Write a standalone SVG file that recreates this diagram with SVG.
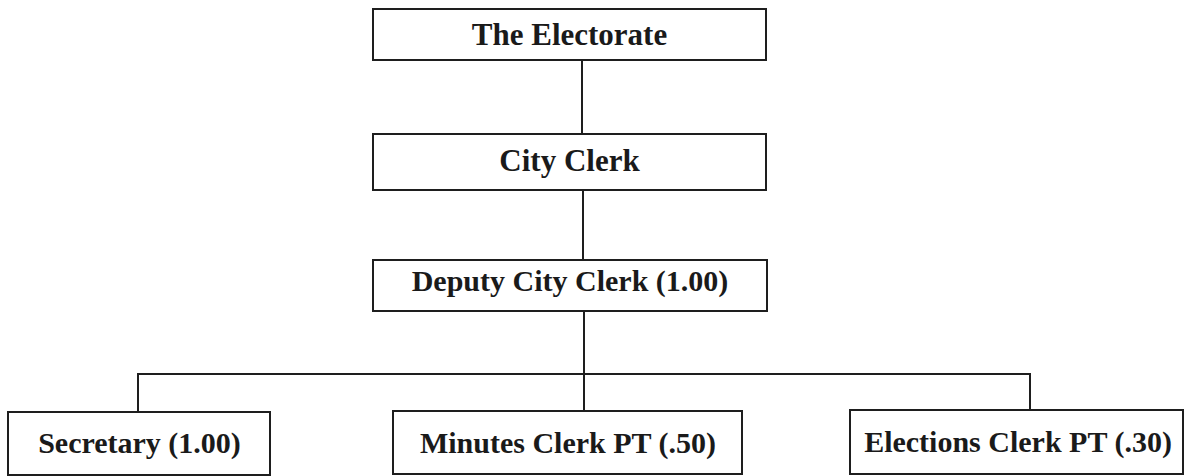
<svg xmlns="http://www.w3.org/2000/svg" width="1185" height="476" viewBox="0 0 1185 476">
<style>
.box{fill:#fff;stroke:#1e1e1e;stroke-width:2}
.lbl{font-family:"Liberation Serif","Times New Roman",serif;font-weight:bold;fill:#1a1a1a;text-anchor:middle}
.big{font-size:31px}
.mid{font-size:30px}
.conn{fill:none;stroke:#1e1e1e;stroke-width:2}
</style>
<rect width="1185" height="476" fill="#fff"/>
<g id="connectors">
<path class="conn" d="M582 60V134"/>
<path class="conn" d="M583 190V260"/>
<path class="conn" d="M584 311V411"/>
<path class="conn" d="M138 412V374H1030V411"/>
</g>
<g id="electorate">
<rect class="box" x="373" y="9" width="393" height="51"/>
<text class="lbl big" x="569.5" y="45">The Electorate</text>
</g>
<g id="city-clerk">
<rect class="box" x="373" y="134" width="393" height="56"/>
<text class="lbl big" x="569.5" y="171">City Clerk</text>
</g>
<g id="deputy-city-clerk">
<rect class="box" x="373" y="260" width="394" height="51"/>
<text class="lbl mid" x="570" y="291">Deputy City Clerk (1.00)</text>
</g>
<g id="secretary">
<rect class="box" x="8" y="412" width="262" height="63"/>
<text class="lbl mid" x="139.5" y="453">Secretary (1.00)</text>
</g>
<g id="minutes-clerk">
<rect class="box" x="393" y="411" width="349" height="63"/>
<text class="lbl mid" x="568" y="453">Minutes Clerk PT (.50)</text>
</g>
<g id="elections-clerk">
<rect class="box" x="850" y="410" width="333" height="64"/>
<text class="lbl mid" x="1018" y="452">Elections Clerk PT (.30)</text>
</g>
</svg>
